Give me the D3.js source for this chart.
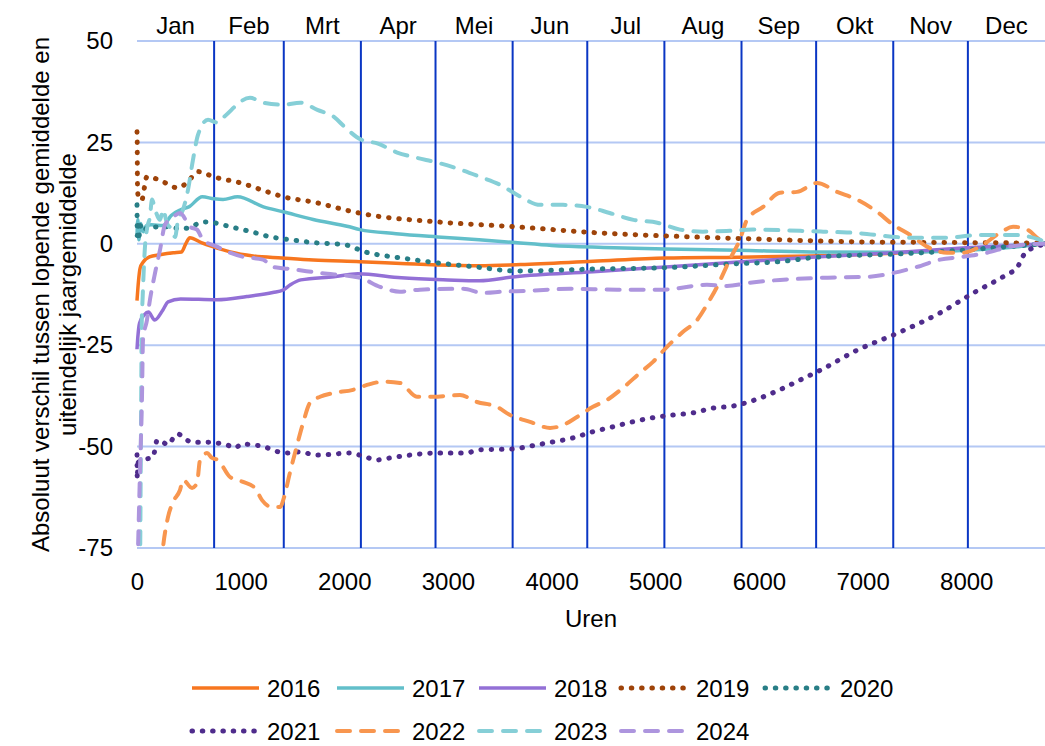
<!DOCTYPE html>
<html>
<head>
<meta charset="utf-8">
<script src="https://cdn.jsdelivr.net/npm/d3@7"></script>
<style>
  body { margin: 0; background: #fff; }
  svg { font-family: "Liberation Sans", Arial, sans-serif; }
</style>
</head>
<body>
<svg width="1045" height="746"></svg>
<script>
// Month boundaries (hour of year) and names
const monthEnds = [744, 1416, 2160, 2880, 3624, 4344, 5088, 5832, 6552, 7296, 8016, 8760];
const monthNames = ['Jan', 'Feb', 'Mrt', 'Apr', 'Mei', 'Jun', 'Jul', 'Aug', 'Sep', 'Okt', 'Nov', 'Dec'];
const xTicks = [0, 1000, 2000, 3000, 4000, 5000, 6000, 7000, 8000];
const yTicks = [-75, -50, -25, 0, 25, 50];

// [hour, difference]
const s2016 = [[0, -14], [15, -9], [30, -6], [60, -4.5], [120, -3.2], [220, -2.7], [350, -2.2], [430, -2.0], [470, 0], [510, 1.5], [620, 0.3], [730, -0.7], [900, -2.0], [1120, -3.0], [1400, -3.5], [1700, -4.0], [2150, -4.4], [2600, -4.9], [2900, -5.2], [3300, -5.4], [3700, -5.1], [4400, -4.3], [5100, -3.5], [5800, -3.3], [6500, -3.0], [7300, -2.3], [8000, -1.3], [8500, -0.5], [8760, 0]];
const s2017 = [[0, 2], [8, 6], [18, 1], [35, 5], [60, 3], [90, 4.5], [140, 4.7], [250, 4.5], [330, 7], [420, 8.4], [500, 9.1], [630, 11.6], [740, 11.1], [830, 10.9], [970, 11.6], [1220, 9.1], [1410, 7.9], [1700, 6], [2050, 4.2], [2150, 3.5], [2500, 2.5], [2900, 1.7], [3300, 1.0], [3650, 0.3], [4000, -0.4], [4500, -0.9], [5100, -1.3], [5800, -1.6], [6500, -2.0], [7300, -2.1], [8000, -1.6], [8500, -0.7], [8760, 0]];
const s2018 = [[0, -26], [8, -23], [25, -19.5], [70, -17.5], [110, -16.8], [170, -18.8], [250, -16.3], [300, -14.3], [420, -13.6], [770, -13.8], [1060, -13], [1310, -12], [1410, -11.4], [1480, -10.1], [1580, -8.9], [1900, -8.1], [2130, -7.4], [2550, -8.4], [3000, -8.9], [3300, -9.1], [3650, -8.1], [4400, -6.9], [5100, -5.7], [5800, -4.5], [6500, -3.3], [7300, -2.2], [8000, -1.0], [8760, 0]];
const s2019 = [[0, 27.6], [2, 25], [4, 15.8], [7, 12.6], [20, 11], [45, 10.8], [95, 16.5], [150, 16.3], [250, 15.3], [390, 13.8], [480, 15], [590, 17.8], [740, 16.5], [1000, 15], [1260, 12.8], [1410, 11.6], [1740, 10.1], [2000, 8.4], [2180, 7.4], [2900, 5.4], [3650, 4.2], [4450, 2.7], [5350, 1.7], [5950, 1.2], [6900, 0.5], [7900, 0.3], [8760, 0.2]];
const s2020 = [[0, 9.6], [3, 2], [10, 4.5], [20, 2], [30, 4.5], [60, 3], [100, 4], [250, 4.2], [350, 4], [420, 3.7], [510, 4], [630, 5.4], [740, 5.2], [900, 4.2], [1100, 3], [1290, 1.7], [1480, 1], [1700, 0.3], [2000, -0.2], [2200, -2], [2550, -3.5], [2900, -4.7], [3300, -5.8], [3650, -6.7], [4450, -6.2], [5100, -5.9], [5700, -5.0], [6200, -4.4], [6600, -3.2], [7350, -2.5], [8000, -1.5], [8500, -0.5], [8760, 0]];
const s2021 = [[0, -52], [3, -58], [8, -54], [60, -53.3], [155, -52.5], [195, -48.4], [250, -48.9], [300, -49.6], [350, -47.9], [395, -46.9], [465, -48.1], [530, -48.9], [610, -48.9], [685, -48.9], [770, -49.1], [870, -49.6], [945, -50.3], [1015, -49.3], [1110, -49.6], [1190, -49.8], [1290, -50.6], [1365, -51.3], [1460, -51.6], [1560, -51.3], [1740, -52.1], [2050, -51.6], [2210, -52.6], [2310, -53.3], [2440, -52.8], [2630, -52.1], [2860, -51.6], [3170, -51.6], [3300, -50.8], [3620, -50.6], [3810, -49.8], [4000, -48.9], [4200, -47.9], [4390, -46.4], [4580, -45.2], [4780, -43.9], [4970, -42.9], [5170, -42.2], [5360, -41.7], [5560, -40.5], [5750, -40], [5960, -38.5], [6200, -36], [6460, -32.8], [6560, -31.6], [6950, -26.2], [7340, -22], [7750, -17], [8070, -12.1], [8390, -7.6], [8490, -5.9], [8570, -2.2], [8680, -0.7], [8760, 0]];
const s2022 = [[230, -80], [251, -74.8], [299, -67.4], [347, -63.7], [415, -60.7], [444, -58.2], [531, -60.2], [579, -59], [608, -53.3], [675, -51.6], [724, -52.8], [781, -53.3], [897, -57.5], [1023, -58.7], [1138, -60.2], [1206, -63.2], [1300, -64.9], [1380, -64.9], [1420, -62.4], [1470, -57], [1530, -51], [1602, -44.2], [1669, -39.2], [1766, -37.7], [1891, -36.8], [2084, -36], [2219, -34.8], [2373, -34], [2537, -34.3], [2701, -37.7], [2856, -37.7], [3116, -37.3], [3280, -39], [3473, -40.2], [3599, -42.2], [3792, -43.9], [3985, -45.4], [4110, -44.7], [4245, -42.7], [4399, -40.2], [4535, -38.5], [4689, -35.5], [4853, -31.8], [4978, -29.1], [5113, -25.4], [5268, -21.7], [5403, -18.8], [5499, -15], [5596, -10.6], [5718, -3.9], [5816, 1], [5885, 5.9], [6040, 9.1], [6204, 12.6], [6368, 12.8], [6561, 15], [6754, 12.8], [6947, 10.9], [7140, 7.9], [7294, 4.7], [7458, 2.2], [7622, -0.7], [7815, -2.2], [7969, -2.2], [8133, -0.7], [8326, 2.7], [8452, 4.2], [8587, 3.5], [8712, 1], [8760, 0.5]];
const s2023 = [[30, -80], [40, -40], [45, -20.5], [55, -13], [75, -1.5], [95, 3.5], [125, 6.7], [145, 10.9], [175, 8.4], [222, 5.9], [251, 8.4], [290, 5], [338, 3.5], [367, 1.7], [396, 5.9], [444, 8.4], [492, 13.3], [540, 20.7], [589, 26.9], [685, 30.6], [772, 29.9], [830, 31.1], [1090, 36], [1215, 34.8], [1410, 34.3], [1575, 34.8], [1740, 33], [1900, 31.3], [2000, 28.9], [2160, 25.7], [2325, 24.7], [2510, 22.5], [2700, 21.2], [2900, 20], [3120, 18.3], [3310, 16.5], [3500, 14.6], [3700, 11.6], [3890, 9.6], [4110, 9.6], [4340, 9.1], [4560, 7.6], [4790, 5.9], [5020, 5.2], [5240, 3.5], [5460, 3], [5720, 3.2], [5940, 3.5], [6400, 3.2], [6620, 3], [6850, 2.8], [7490, 1.5], [7815, 1.5], [8130, 2.2], [8450, 2.2], [8710, 1], [8760, 0.5]];
const s2024 = [[5, -80], [10, -75], [29, -56], [48, -38], [58, -23.7], [96, -18.8], [125, -13.8], [174, -7.2], [222, -1.5], [270, 4.7], [340, 6.4], [415, 7.6], [511, 4.2], [579, 3.5], [637, 1.0], [772, -0.7], [897, -2.2], [1023, -3.2], [1216, -3.9], [1312, -5.7], [1476, -6.2], [1766, -7.2], [2152, -8.4], [2344, -10.6], [2537, -11.8], [2730, -11.3], [3145, -11.1], [3338, -12.1], [3531, -11.8], [3763, -11.6], [4178, -11.1], [4631, -11.3], [5075, -11.3], [5499, -10.1], [5692, -10.4], [5914, -9.6], [6204, -8.9], [6590, -8.4], [7072, -8.1], [7294, -7.2], [7525, -5.7], [7747, -3.9], [7969, -3.2], [8201, -2.2], [8423, -0.7], [8741, 0], [8760, 0]];

const seriesNames = ['2016', '2017', '2018', '2019', '2020', '2021', '2022', '2023', '2024'];
const seriesData = [s2016, s2017, s2018, s2019, s2020, s2021, s2022, s2023, s2024];
const seriesColors = ['#f7761f', '#62bfca', '#9370d6', '#9e4309', '#287e86', '#4f2c8c', '#f8964f', '#86cfd7', '#ad95de'];
const seriesStyles = ['solid', 'solid', 'solid', 'dot', 'dot', 'dot', 'dash', 'dash', 'dash'];

const svg = d3.select('svg');
const plotLeft = 137;
const plotRight = 1045;
const plotTop = 41;
const plotBottom = 548;
const fontSize = '24px';

const x = d3.scaleLinear().domain([0, 8760]).range([plotLeft, plotRight]);
const y = d3.scaleLinear().domain([-75, 50]).range([plotBottom, plotTop]);

// Horizontal gridlines
svg.append('g')
  .selectAll('line')
  .data(yTicks)
  .enter()
  .append('line')
  .attr('x1', plotLeft)
  .attr('x2', plotRight)
  .attr('y1', (d) => y(d))
  .attr('y2', (d) => y(d))
  .attr('stroke', '#b4c8f4')
  .attr('stroke-width', 2);

// Month boundary lines
svg.append('g')
  .selectAll('line')
  .data(monthEnds.slice(0, 11))
  .enter()
  .append('line')
  .attr('x1', (d) => x(d))
  .attr('x2', (d) => x(d))
  .attr('y1', y(50))
  .attr('y2', y(-75))
  .attr('stroke', '#0a36c4')
  .attr('stroke-width', 2);

// Axes text
const yAxis = d3.axisLeft(y).tickValues(yTicks).tickSize(0).tickPadding(24)
  .tickFormat((d) => String(d));
svg.append('g')
  .attr('transform', `translate(${plotLeft}, 0)`)
  .call(yAxis)
  .call((g) => g.select('.domain').remove())
  .selectAll('text')
  .style('font-size', fontSize)
  .style('font-family', '"Liberation Sans", Arial, sans-serif')
  .attr('fill', '#000');

const xAxis = d3.axisBottom(x).tickValues(xTicks).tickSize(0).tickPadding(25)
  .tickFormat((d) => String(d));
svg.append('g')
  .attr('transform', `translate(0, ${plotBottom})`)
  .call(xAxis)
  .call((g) => g.select('.domain').remove())
  .selectAll('text')
  .style('font-size', fontSize)
  .style('font-family', '"Liberation Sans", Arial, sans-serif')
  .attr('fill', '#000');

// Month labels on top
const monthMids = monthEnds.map((e, i) => ((i === 0 ? 0 : monthEnds[i - 1]) + e) / 2);
svg.append('g')
  .selectAll('text')
  .data(monthNames)
  .enter()
  .append('text')
  .attr('x', (d, i) => x(monthMids[i]))
  .attr('y', 34)
  .attr('text-anchor', 'middle')
  .style('font-size', fontSize)
  .text((d) => d);

// Axis titles
svg.append('text')
  .attr('x', (plotLeft + plotRight) / 2)
  .attr('y', 627)
  .attr('text-anchor', 'middle')
  .style('font-size', fontSize)
  .text('Uren');

const yTitle = svg.append('text')
  .attr('transform', `translate(0, ${(plotTop + plotBottom) / 2}) rotate(-90)`)
  .attr('text-anchor', 'middle')
  .style('font-size', fontSize);
yTitle.append('tspan').attr('x', 0).attr('y', 49).text('Absoluut verschil tussen lopende gemiddelde en');
yTitle.append('tspan').attr('x', 0).attr('y', 76).text('uiteindelijk jaargemiddelde');

// Series
function applyStyle(sel, i) {
  sel.attr('fill', 'none')
    .attr('stroke', seriesColors[i])
    .attr('stroke-linejoin', 'round');
  if (seriesStyles[i] === 'solid') {
    sel.attr('stroke-width', 3.5);
  } else if (seriesStyles[i] === 'dot') {
    sel.attr('stroke-width', 5).attr('stroke-linecap', 'round').attr('stroke-dasharray', '0.5 9.8');
  } else {
    sel.attr('stroke-width', 4).attr('stroke-linecap', 'round').attr('stroke-dasharray', '13 11');
  }
}

svg.append('clipPath')
  .attr('id', 'plot-clip')
  .append('rect')
  .attr('x', plotLeft - 5)
  .attr('y', plotTop - 10)
  .attr('width', plotRight - plotLeft + 10)
  .attr('height', plotBottom - plotTop + 10);

const line = d3.line()
  .x((d) => x(d[0]))
  .y((d) => y(d[1]))
  .curve(d3.curveMonotoneX);

const plot = svg.append('g').attr('clip-path', 'url(#plot-clip)');
seriesData.forEach((data, i) => {
  plot.append('path')
    .attr('d', line(data))
    .call(applyStyle, i);
});

// Legend
const legendCols = [190, 335, 477, 619, 763];
const legendRows = [688, 731];
seriesNames.forEach((name, i) => {
  const col = i < 5 ? i : i - 5;
  const row = i < 5 ? 0 : 1;
  const g = svg.append('g')
    .attr('transform', `translate(${legendCols[col]}, ${legendRows[row]})`);
  g.append('line')
    .attr('x1', 2)
    .attr('x2', 69)
    .attr('y1', 0)
    .attr('y2', 0)
    .call(applyStyle, i);
  g.append('text')
    .attr('x', 77)
    .attr('y', 9)
    .style('font-size', fontSize)
    .text(name);
});
</script>
</body>
</html>
